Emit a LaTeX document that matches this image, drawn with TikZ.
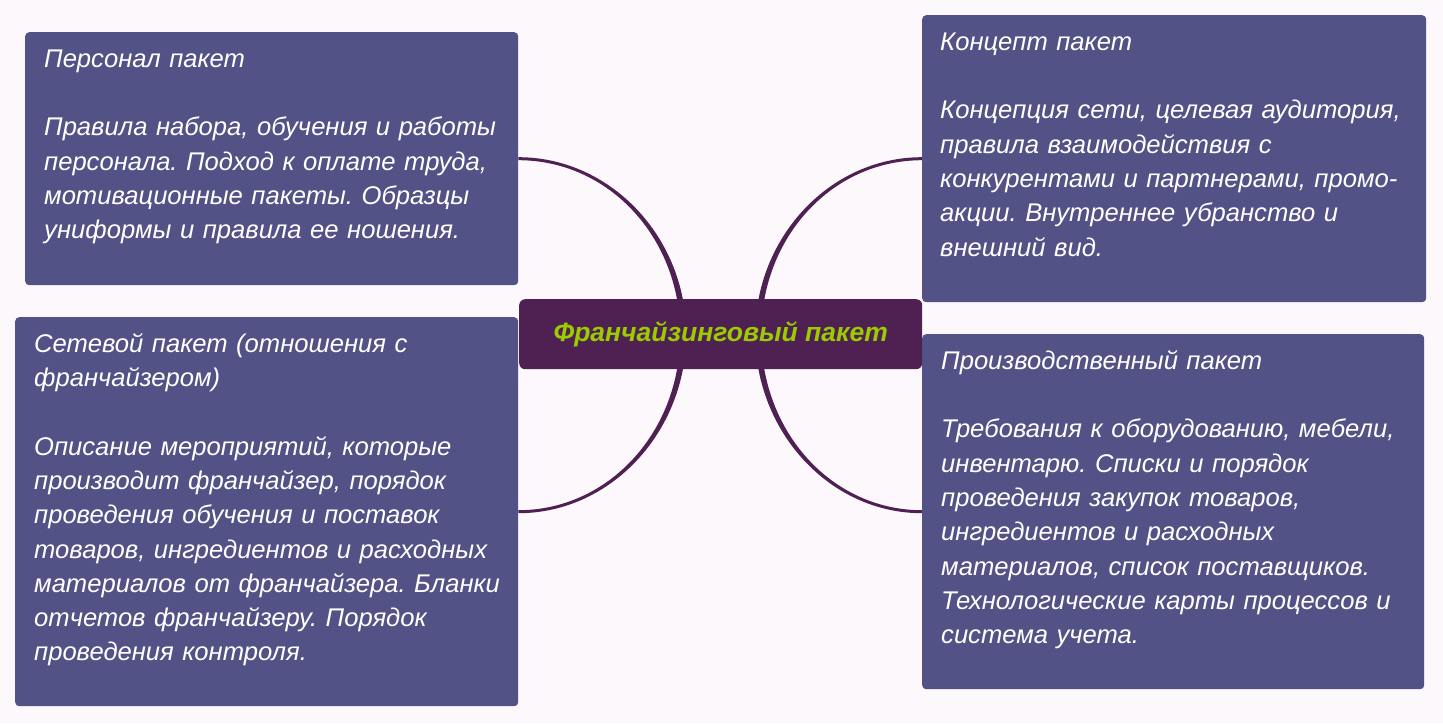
\documentclass[tikz,border=0pt]{standalone}
\usepackage{fontspec}
\setmainfont{Liberation Sans}
\usetikzlibrary{calc,backgrounds}
\definecolor{bg}{HTML}{FCF8FC}
\definecolor{boxc}{HTML}{525286}
\definecolor{hub}{HTML}{4E2152}
\definecolor{lime}{HTML}{9BCB00}
\frenchspacing
\begin{document}
\begin{tikzpicture}[x=1pt,y=-1pt,
  pane/.style={fill=boxc, rounded corners=4pt, draw=none, inner sep=0pt, anchor=north west},
  txt/.style={anchor=north west, inner sep=0pt, text=white, align=left, text width=500pt,
    font=\fontsize{25.6}{34.3}\selectfont\itshape},
  hubbox/.style={fill=hub, rounded corners=6pt, inner sep=0pt, anchor=north west,
    text=lime, font=\fontsize{26.5}{32}\selectfont\bfseries\itshape},
  link/.style={fill=hub, draw=none}]
\useasboundingbox (0,0) rectangle (1443,723);
\begin{pgfonlayer}{background}
\fill[bg] (0,0) rectangle (1443,723);
\end{pgfonlayer}

\node[pane, minimum width=493pt, minimum height=253pt] (tl) at (25,32) {};
\node[pane, minimum width=503pt, minimum height=389pt] (bl) at (15,317) {};
\node[pane, minimum width=504pt, minimum height=287pt] (tr) at (922,15) {};
\node[pane, minimum width=502pt, minimum height=355pt] (br) at (922,334) {};
\node[hubbox, minimum width=403pt, minimum height=70pt] (c) at (519,299) {\raisebox{-2pt}{Франчайзинговый пакет}};

\node[txt] (tlt) at ($(tl.north west)+(19,11)$) {\rule{0pt}{24pt}Персонал пакет\\[34.3pt]
Правила набора, обучения и работы\\
персонала. Подход к оплате труда,\\
мотивационные пакеты. Образцы\\
униформы и правила ее ношения.};

\node[txt] (blt) at ($(bl.north west)+(19,11)$) {\rule{0pt}{24pt}Сетевой пакет (отношения с\\
франчайзером)\\[34.3pt]
Описание мероприятий, которые\\
производит франчайзер, порядок\\
проведения обучения и поставок\\
товаров, ингредиентов и расходных\\
материалов от франчайзера. Бланки\\
отчетов франчайзеру. Порядок\\
проведения контроля.};

\node[txt] (trt) at ($(tr.north west)+(18,11)$) {\rule{0pt}{24pt}Концепт пакет\\[34.3pt]
Концепция сети, целевая аудитория,\\
правила взаимодействия с\\
конкурентами и партнерами, промо-\\
акции. Внутреннее убранство и\\
внешний вид.};

\node[txt] (brt) at ($(br.north west)+(19,11)$) {\rule{0pt}{24pt}Производственный пакет\\[34.3pt]
Требования к оборудованию, мебели,\\
инвентарю. Списки и порядок\\
проведения закупок товаров,\\
ингредиентов и расходных\\
материалов, список поставщиков.\\
Технологические карты процессов и\\
система учета.};

\begin{pgfonlayer}{background}
\fill[link] ($(tl.east)+(0,-1.5)$) .. controls +(92,0) and +(0,-97) .. ($(c.center)+(-34.5,0)$)
  -- ($(c.center)+(-40.5,0)$) .. controls +(0,-97) and +(90,0) .. ($(tl.east)+(0,1.5)$) -- cycle;
\fill[link] ($(bl.east)+(0,1.5)$) .. controls +(92,0) and +(0,98) .. ($(c.center)+(-34.5,0)$)
  -- ($(c.center)+(-40.5,0)$) .. controls +(0,98) and +(90,0) .. ($(bl.east)+(0,-1.5)$) -- cycle;
\fill[link] ($(tr.west)+(0,-1.5)$) .. controls +(-92,0) and +(0,-97) .. ($(c.center)+(34.5,0)$)
  -- ($(c.center)+(40.5,0)$) .. controls +(0,-97) and +(-90,0) .. ($(tr.west)+(0,1.5)$) -- cycle;
\fill[link] ($(br.west)+(0,1.5)$) .. controls +(-92,0) and +(0,98) .. ($(c.center)+(34.5,0)$)
  -- ($(c.center)+(40.5,0)$) .. controls +(0,98) and +(-90,0) .. ($(br.west)+(0,-1.5)$) -- cycle;
\end{pgfonlayer}
\end{tikzpicture}
\end{document}
